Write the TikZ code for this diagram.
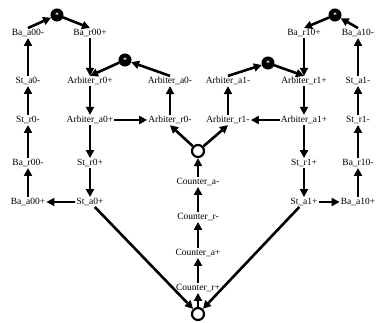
\documentclass[tikz,border=0pt]{standalone}
\usepackage{fontspec}
\setmainfont{Liberation Serif}
\usetikzlibrary{arrows.meta}
\begin{document}
\begin{tikzpicture}[x=1pt,y=-1pt,
  lbl/.style={inner sep=1pt,font=\fontsize{9.5}{10}\selectfont},
  mplace/.style={circle,draw=black,fill=black,line width=1pt,minimum size=12pt,inner sep=0pt,
     font=\fontsize{7}{7}\selectfont\bfseries,text=white},
  oplace/.style={circle,draw=black,fill=white,line width=2.2pt,minimum size=12pt,inner sep=0pt},
  arc/.style={line width=2.6pt,-{Triangle[length=8pt,width=8pt]}}]
\useasboundingbox (0,0) rectangle (380,322);
% left columns
\node[lbl] (baa00m) at (28,33) {Ba\_a00-};
\node[lbl] (bar00p) at (90,33) {Ba\_r00+};
\node[lbl] (sta0m) at (28,81) {St\_a0-};
\node[lbl] (arbr0p) at (90,81) {Arbiter\_r0+};
\node[lbl] (arba0m) at (170,81) {Arbiter\_a0-};
\node[lbl] (str0m) at (28,120) {St\_r0-};
\node[lbl] (arba0p) at (90,120) {Arbiter\_a0+};
\node[lbl] (arbr0m) at (170,120) {Arbiter\_r0-};
\node[lbl] (bar00m) at (28,163) {Ba\_r00-};
\node[lbl] (str0p) at (90,163) {St\_r0+};
\node[lbl] (baa00p) at (28,202) {Ba\_a00+};
\node[lbl] (sta0p) at (90,202) {St\_a0+};
% right columns
\node[lbl] (baa10m) at (358,33) {Ba\_a10-};
\node[lbl] (bar10p) at (304,33) {Ba\_r10+};
\node[lbl] (sta1m) at (358,81) {St\_a1-};
\node[lbl] (arbr1p) at (304,81) {Arbiter\_r1+};
\node[lbl] (arba1m) at (228,81) {Arbiter\_a1-};
\node[lbl] (str1m) at (358,120) {St\_r1-};
\node[lbl] (arba1p) at (304,120) {Arbiter\_a1+};
\node[lbl] (arbr1m) at (228,120) {Arbiter\_r1-};
\node[lbl] (bar10m) at (358,163) {Ba\_r10-};
\node[lbl] (str1p) at (304,163) {St\_r1+};
\node[lbl] (baa10p) at (358,202) {Ba\_a10+};
\node[lbl] (sta1p) at (304,202) {St\_a1+};
% middle
\node[lbl] (cam) at (198,182) {Counter\_a-};
\node[lbl] (crm) at (198,217) {Counter\_r-};
\node[lbl] (cap) at (198,253) {Counter\_a+};
\node[lbl] (crp) at (198,288) {Counter\_r+};
% places
\node[mplace] (p1) at (57,15) {*};
\node[mplace] (p2) at (125,60) {*};
\node[mplace] (p3) at (335,15) {*};
\node[mplace] (p4) at (268,63) {*};
\node[oplace] (pm) at (198,151) {};
\node[oplace] (pb) at (198,314) {};
% left arcs
\draw[arc] (baa00m.north) -- (p1);
\draw[arc] (p1) -- (bar00p.north);
\draw[arc] (bar00p) -- (arbr0p.north);
\draw[arc] (arba0m.north) -- (p2);
\draw[arc] (p2) -- (arbr0p.north);
\draw[arc] (arbr0p) -- (arba0p);
\draw[arc] (arba0p) -- (arbr0m);
\draw[arc] (arbr0m) -- (arba0m);
\draw[arc] (arba0p) -- (str0p);
\draw[arc] (str0p) -- (sta0p);
\draw[arc] (sta0p) -- (baa00p);
\draw[arc] (baa00p) -- (bar00m);
\draw[arc] (bar00m) -- (str0m);
\draw[arc] (str0m) -- (sta0m);
\draw[arc] (sta0m) -- (baa00m);
\draw[arc] (sta0p) -- (pb);
% right arcs
\draw[arc] (baa10m.north) -- (p3);
\draw[arc] (p3) -- (bar10p.north);
\draw[arc] (bar10p) -- (arbr1p.north);
\draw[arc] (arba1m.north) -- (p4);
\draw[arc] (p4) -- (arbr1p.north);
\draw[arc] (arbr1p) -- (arba1p);
\draw[arc] (arba1p) -- (arbr1m);
\draw[arc] (arbr1m) -- (arba1m);
\draw[arc] (arba1p) -- (str1p);
\draw[arc] (str1p) -- (sta1p);
\draw[arc] (sta1p) -- (baa10p);
\draw[arc] (baa10p) -- (bar10m);
\draw[arc] (bar10m) -- (str1m);
\draw[arc] (str1m) -- (sta1m);
\draw[arc] (sta1m) -- (baa10m);
\draw[arc] (sta1p) -- (pb);
% middle arcs
\draw[arc] (pm) -- (arbr0m.south);
\draw[arc] (pm) -- (arbr1m.south);
\draw[arc] (cam) -- (pm);
\draw[arc] (crm) -- (cam);
\draw[arc] (cap) -- (crm);
\draw[arc] (crp) -- (cap);
\draw[arc] (pb) -- (crp);
\end{tikzpicture}
\end{document}
